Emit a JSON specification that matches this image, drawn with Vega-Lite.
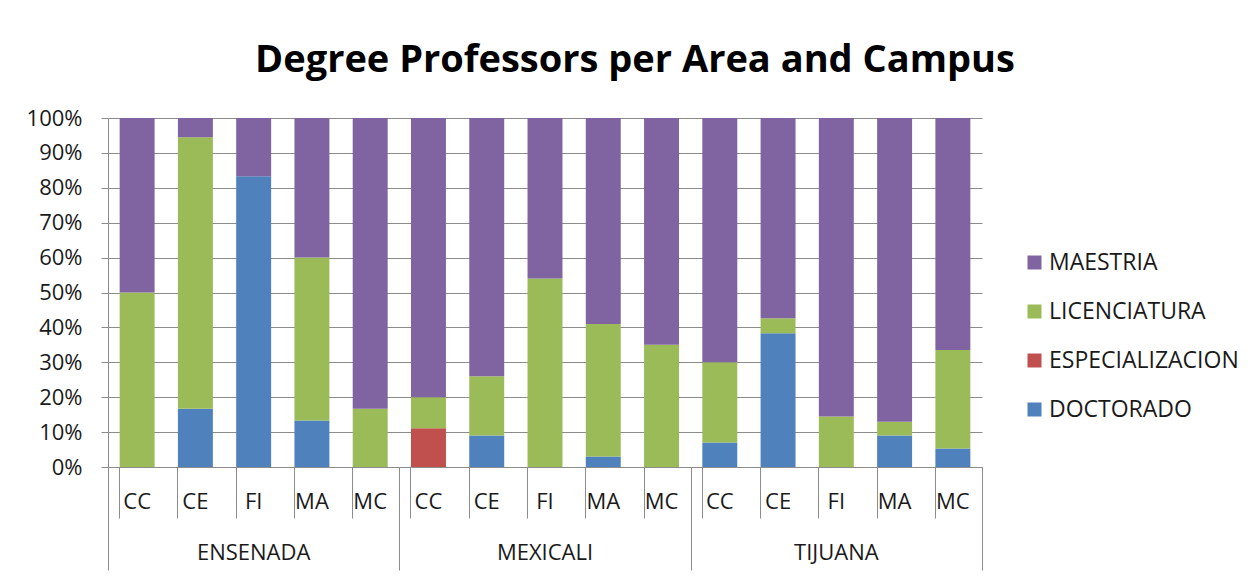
{
  "$schema": "https://vega.github.io/schema/vega-lite/v6.json",
  "width": 874,
  "height": 349,
  "autosize": {"type": "none"},
  "padding": {"left": 108, "top": 118, "right": 278, "bottom": 113},
  "background": "white",
  "title": {
    "text": "Degree Professors per Area and Campus",
    "font": "Open Sans",
    "fontSize": 38,
    "fontWeight": "bold",
    "color": "#000000",
    "anchor": "middle",
    "baseline": "alphabetic",
    "dx": 90,
    "offset": -3
  },
  "config": {
    "view": {"stroke": null},
    "axis": {"labelFont": "Open Sans", "labelColor": "#1a1a1a", "tickColor": "#8c8c8c", "domainColor": "#8c8c8c", "gridColor": "#8c8c8c"}
  },
  "data": {
    "values": [
      {"bar": "ENSENADA CC", "campus": "ENSENADA", "area": "CC", "degree": "LICENCIATURA", "pct": 50},
      {"bar": "ENSENADA CC", "campus": "ENSENADA", "area": "CC", "degree": "MAESTRIA", "pct": 50},
      {"bar": "ENSENADA CE", "campus": "ENSENADA", "area": "CE", "degree": "DOCTORADO", "pct": 16.7},
      {"bar": "ENSENADA CE", "campus": "ENSENADA", "area": "CE", "degree": "LICENCIATURA", "pct": 77.8},
      {"bar": "ENSENADA CE", "campus": "ENSENADA", "area": "CE", "degree": "MAESTRIA", "pct": 5.5},
      {"bar": "ENSENADA FI", "campus": "ENSENADA", "area": "FI", "degree": "DOCTORADO", "pct": 83.3},
      {"bar": "ENSENADA FI", "campus": "ENSENADA", "area": "FI", "degree": "MAESTRIA", "pct": 16.7},
      {"bar": "ENSENADA MA", "campus": "ENSENADA", "area": "MA", "degree": "DOCTORADO", "pct": 13.3},
      {"bar": "ENSENADA MA", "campus": "ENSENADA", "area": "MA", "degree": "LICENCIATURA", "pct": 46.7},
      {"bar": "ENSENADA MA", "campus": "ENSENADA", "area": "MA", "degree": "MAESTRIA", "pct": 40},
      {"bar": "ENSENADA MC", "campus": "ENSENADA", "area": "MC", "degree": "LICENCIATURA", "pct": 16.7},
      {"bar": "ENSENADA MC", "campus": "ENSENADA", "area": "MC", "degree": "MAESTRIA", "pct": 83.3},
      {"bar": "MEXICALI CC", "campus": "MEXICALI", "area": "CC", "degree": "ESPECIALIZACION", "pct": 11.1},
      {"bar": "MEXICALI CC", "campus": "MEXICALI", "area": "CC", "degree": "LICENCIATURA", "pct": 8.9},
      {"bar": "MEXICALI CC", "campus": "MEXICALI", "area": "CC", "degree": "MAESTRIA", "pct": 80},
      {"bar": "MEXICALI CE", "campus": "MEXICALI", "area": "CE", "degree": "DOCTORADO", "pct": 9},
      {"bar": "MEXICALI CE", "campus": "MEXICALI", "area": "CE", "degree": "LICENCIATURA", "pct": 17},
      {"bar": "MEXICALI CE", "campus": "MEXICALI", "area": "CE", "degree": "MAESTRIA", "pct": 74},
      {"bar": "MEXICALI FI", "campus": "MEXICALI", "area": "FI", "degree": "LICENCIATURA", "pct": 54},
      {"bar": "MEXICALI FI", "campus": "MEXICALI", "area": "FI", "degree": "MAESTRIA", "pct": 46},
      {"bar": "MEXICALI MA", "campus": "MEXICALI", "area": "MA", "degree": "DOCTORADO", "pct": 3},
      {"bar": "MEXICALI MA", "campus": "MEXICALI", "area": "MA", "degree": "LICENCIATURA", "pct": 38},
      {"bar": "MEXICALI MA", "campus": "MEXICALI", "area": "MA", "degree": "MAESTRIA", "pct": 59},
      {"bar": "MEXICALI MC", "campus": "MEXICALI", "area": "MC", "degree": "LICENCIATURA", "pct": 35},
      {"bar": "MEXICALI MC", "campus": "MEXICALI", "area": "MC", "degree": "MAESTRIA", "pct": 65},
      {"bar": "TIJUANA CC", "campus": "TIJUANA", "area": "CC", "degree": "DOCTORADO", "pct": 7},
      {"bar": "TIJUANA CC", "campus": "TIJUANA", "area": "CC", "degree": "LICENCIATURA", "pct": 23},
      {"bar": "TIJUANA CC", "campus": "TIJUANA", "area": "CC", "degree": "MAESTRIA", "pct": 70},
      {"bar": "TIJUANA CE", "campus": "TIJUANA", "area": "CE", "degree": "DOCTORADO", "pct": 38.3},
      {"bar": "TIJUANA CE", "campus": "TIJUANA", "area": "CE", "degree": "LICENCIATURA", "pct": 4.3},
      {"bar": "TIJUANA CE", "campus": "TIJUANA", "area": "CE", "degree": "MAESTRIA", "pct": 57.4},
      {"bar": "TIJUANA FI", "campus": "TIJUANA", "area": "FI", "degree": "LICENCIATURA", "pct": 14.5},
      {"bar": "TIJUANA FI", "campus": "TIJUANA", "area": "FI", "degree": "MAESTRIA", "pct": 85.5},
      {"bar": "TIJUANA MA", "campus": "TIJUANA", "area": "MA", "degree": "DOCTORADO", "pct": 9},
      {"bar": "TIJUANA MA", "campus": "TIJUANA", "area": "MA", "degree": "LICENCIATURA", "pct": 4},
      {"bar": "TIJUANA MA", "campus": "TIJUANA", "area": "MA", "degree": "MAESTRIA", "pct": 87},
      {"bar": "TIJUANA MC", "campus": "TIJUANA", "area": "MC", "degree": "DOCTORADO", "pct": 5.3},
      {"bar": "TIJUANA MC", "campus": "TIJUANA", "area": "MC", "degree": "LICENCIATURA", "pct": 28.2},
      {"bar": "TIJUANA MC", "campus": "TIJUANA", "area": "MC", "degree": "MAESTRIA", "pct": 66.5}
    ]
  },
  "layer": [
    {
      "mark": {"type": "bar"},
      "encoding": {
        "x": {
          "field": "bar", "type": "nominal", "sort": null,
          "scale": {"paddingInner": 0.4, "paddingOuter": 0.2},
          "axis": {
            "title": null, "labelAngle": 0, "bandPosition": 0,
            "labelExpr": "split(datum.label, ' ')[1]",
            "tickSize": 51, "labelBaseline": "middle", "labelPadding": -17,
            "labelFontSize": 22, "domain": true, "grid": false
          }
        },
        "y": {
          "field": "pct", "type": "quantitative", "stack": "normalize",
          "scale": {"domain": [0, 1], "nice": false},
          "axis": {
            "title": null, "format": "%", "values": [0, 0.1, 0.2, 0.3, 0.4, 0.5, 0.6, 0.7, 0.8, 0.9, 1],
            "grid": true, "tickSize": 7, "labelPadding": 19, "labelFontSize": 22, "labelFlush": false
          }
        },
        "color": {
          "field": "degree", "type": "nominal",
          "scale": {
            "domain": ["MAESTRIA", "LICENCIATURA", "ESPECIALIZACION", "DOCTORADO"],
            "range": ["#8064A2", "#9BBB59", "#C0504D", "#4F81BD"]
          },
          "legend": {
            "title": null, "orient": "none", "legendX": 915, "legendY": 133,
            "symbolType": "square", "symbolSize": 196, "symbolStrokeWidth": 0,
            "labelFont": "Open Sans", "labelFontSize": 23, "labelColor": "#1a1a1a", "labelLimit": 400,
            "labelOffset": 3, "rowPadding": 25, "padding": 0
          }
        },
        "order": {"field": "degree", "sort": "ascending"}
      }
    },
    {
      "mark": {"type": "rule", "opacity": 0},
      "encoding": {
        "x": {
          "field": "campus", "type": "nominal", "sort": null,
          "scale": {"paddingInner": 0, "paddingOuter": 0},
          "axis": {
            "title": null, "orient": "bottom", "labelAngle": 0, "ticks": false, "domain": false,
            "labelBaseline": "middle", "labelPadding": 85, "labelFontSize": 22, "grid": false
          }
        }
      }
    },
    {
      "mark": {"type": "rule", "opacity": 0},
      "encoding": {
        "x": {
          "datum": 0, "type": "quantitative",
          "scale": {"domain": [0, 3], "nice": false, "zero": false},
          "axis": {
            "title": null, "orient": "bottom", "values": [0, 1, 2, 3], "tickSize": 103,
            "labels": false, "domain": false, "grid": false
          }
        }
      }
    }
  ],
  "resolve": {"scale": {"x": "independent"}, "axis": {"x": "independent"}}
}
